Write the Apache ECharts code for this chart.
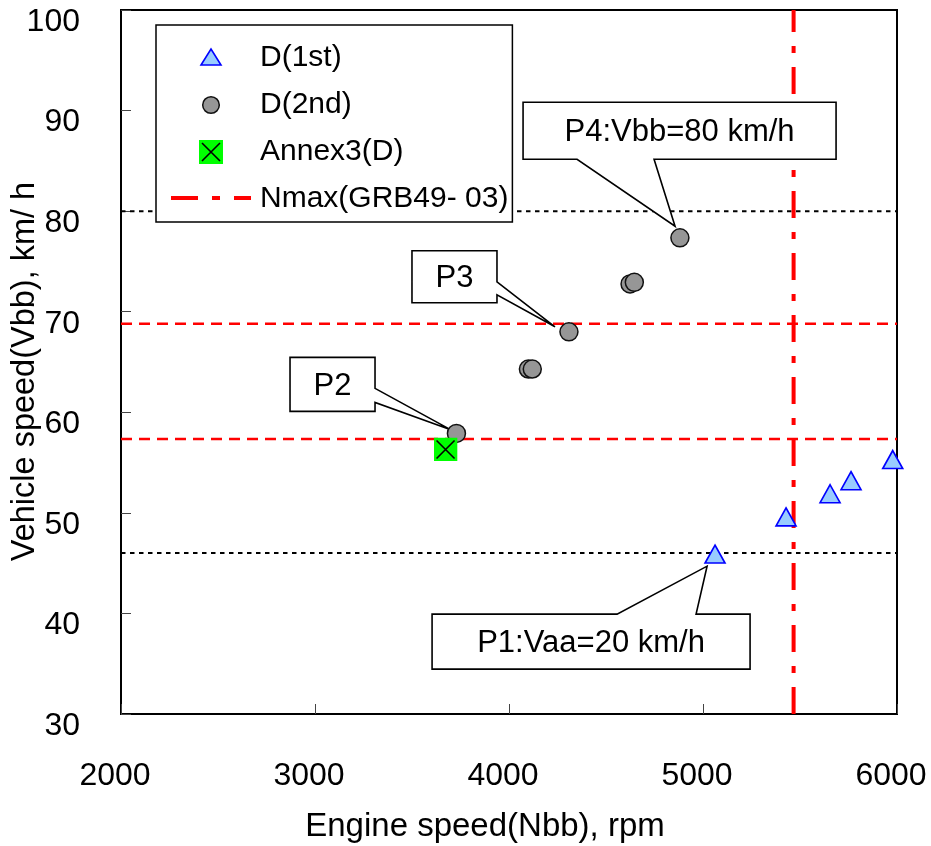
<!DOCTYPE html>
<html><head><meta charset="utf-8">
<script src="https://cdn.jsdelivr.net/npm/echarts@6/dist/echarts.min.js"></script>
<style>html,body{margin:0;padding:0;background:#fff}#c{width:931px;height:846px}</style>
</head><body><div id="c"></div>
<script>
// ---- data ----
const xMin = 2000, xMax = 6000, xStep = 1000;
const yMin = 30, yMax = 100, yStep = 10;
const d1Rpm = [5062, 5428, 5655, 5763, 5978];
const d1Kmh = [45.9, 49.6, 51.9, 53.2, 55.3];
const d2Rpm = [4881, 4624, 4646, 4309, 4100, 4120, 3729];
const d2Kmh = [77.35, 72.76, 72.92, 68.0, 64.3, 64.3, 57.9];
const annexRpm = [3673];
const annexKmh = [56.3];
const nmaxRpm = 5467;
const redLevels = [68.8, 57.35];
const dottedLevels = [80, 46];
const seriesNames = ['D(1st)', 'D(2nd)', 'Annex3(D)', 'Nmax(GRB49- 03)'];
const calloutLabels = ['P1:Vaa=20 km/h', 'P2', 'P3', 'P4:Vbb=80 km/h'];
const calloutRpm = [5021, 3696, 4237, 4856];
const calloutKmh = [44.7, 58.3, 68.5, 78.5];
// callout layout in px relative to the pointer tip
const calloutLayout = [
  {box: [-275, 48, 43, 103], side: 'top', w: [-90, -11]},
  {box: [-160, -72, -75, -18], side: 'right', w: [-41, -27]},
  {box: [-143, -76, -58, -24], side: 'right', w: [-45, -32]},
  {box: [-152, -124, 161, -67], side: 'bottom', w: [-98, -21]}
];

const FONT = '"Liberation Sans", Arial, sans-serif';
const svgUrl = s => 'image://data:image/svg+xml;charset=utf-8,' + encodeURIComponent(s);
const sqSvg = '<svg xmlns="http://www.w3.org/2000/svg" width="24" height="24" viewBox="0 0 24 24"><rect x="0" y="0" width="24" height="24" fill="#00ff00"/><path d="M3 3L21 21M21 3L3 21" stroke="#000" stroke-width="1.6" fill="none"/></svg>';
const legTri = '<svg xmlns="http://www.w3.org/2000/svg" width="80" height="24" viewBox="0 0 80 24"><polygon points="30,19 50,19 40,3" fill="#99ccff" stroke="#0000ff" stroke-width="1.6"/></svg>';
const legCir = '<svg xmlns="http://www.w3.org/2000/svg" width="80" height="24" viewBox="0 0 80 24"><circle cx="40" cy="12" r="8.3" fill="#969696" stroke="#111" stroke-width="1.5"/></svg>';
const legSq = '<svg xmlns="http://www.w3.org/2000/svg" width="80" height="24" viewBox="0 0 80 24"><rect x="28" y="0" width="24" height="24" fill="#00ff00"/><path d="M31 3L49 21M49 3L31 21" stroke="#000" stroke-width="1.6" fill="none"/></svg>';
const legLine = '<svg xmlns="http://www.w3.org/2000/svg" width="80" height="24" viewBox="0 0 80 24"><path d="M0 11H80" stroke="#ff0000" stroke-width="4" stroke-dasharray="27 14 8 14" fill="none"/></svg>';

const zip = (a, b) => a.map((v, i) => [v, b[i]]);

const series = [];
redLevels.forEach(v => series.push({
  type: 'line', data: [[xMin, v], [xMax, v]], symbol: 'none', silent: true, z: 2,
  lineStyle: {color: '#ff0000', width: 2.5, type: [11, 7]}
}));
dottedLevels.forEach(v => series.push({
  type: 'line', data: [[xMin, v], [xMax, v]], symbol: 'none', silent: true, z: 2,
  lineStyle: {color: '#000', width: 2, type: [4.5, 4.5]}
}));
series.push({
  name: seriesNames[3], type: 'line', data: [[nmaxRpm, yMin], [nmaxRpm, yMax]],
  symbol: 'none', z: 2, itemStyle: {color: '#ff0000'},
  lineStyle: {color: '#ff0000', width: 4, type: [27, 14, 7, 14]}
});
series.push({
  type: 'custom', z: 3, silent: true,
  data: zip(calloutRpm, calloutKmh),
  renderItem: function (params, api) {
    const p = api.coord([api.value(0), api.value(1)]);
    const L = calloutLayout[params.dataIndex];
    const [l, t, r, b] = L.box;
    let pts;
    if (L.side === 'top') pts = [[l, t], [L.w[0], t], [0, 0], [L.w[1], t], [r, t], [r, b], [l, b]];
    else if (L.side === 'right') pts = [[l, t], [r, t], [r, L.w[0]], [0, 0], [r, L.w[1]], [r, b], [l, b]];
    else pts = [[l, t], [r, t], [r, b], [L.w[1], b], [0, 0], [L.w[0], b], [l, b]];
    pts = pts.map(q => [p[0] + q[0], p[1] + q[1]]);
    return {
      type: 'group', children: [
        {type: 'polygon', shape: {points: pts}, style: {fill: '#fff', stroke: '#000', lineWidth: 1.6}},
        {type: 'text', style: {text: calloutLabels[params.dataIndex], x: p[0] + (l + r) / 2, y: p[1] + (t + b) / 2 + 2,
          align: 'center', verticalAlign: 'middle', fontSize: 31, fontFamily: FONT, fill: '#000'}}
      ]
    };
  }
});
series.push({
  name: seriesNames[0], type: 'scatter', z: 4, data: zip(d1Rpm, d1Kmh),
  symbol: 'triangle', symbolSize: [20, 18],
  itemStyle: {color: '#99ccff', borderColor: '#0000ff', borderWidth: 1.6, opacity: 1}
});
series.push({
  name: seriesNames[1], type: 'scatter', z: 4, data: zip(d2Rpm, d2Kmh),
  symbol: 'circle', symbolSize: 18,
  itemStyle: {color: '#969696', borderColor: '#111', borderWidth: 1.5, opacity: 1}
});
series.push({
  name: seriesNames[2], type: 'scatter', z: 5, data: zip(annexRpm, annexKmh),
  symbol: svgUrl(sqSvg), symbolSize: 24, itemStyle: {color: '#00ff00', opacity: 1}
});

const axisCommon = {
  type: 'value',
  axisLine: {show: true, lineStyle: {color: '#000', width: 2}},
  axisTick: {show: true, inside: true, length: 10, lineStyle: {color: '#444', width: 1}},
  splitLine: {show: false},
  nameLocation: 'middle',
  nameMoveOverlap: false
};

const chart = echarts.init(document.getElementById('c'), null, {renderer: 'canvas'});
chart.setOption({
  animation: false,
  backgroundColor: '#fff',
  grid: {left: 121, right: 34, top: 10, bottom: 132, containLabel: false, outerBoundsMode: 'none',
    show: true, borderColor: '#000', borderWidth: 2, backgroundColor: 'transparent'},
  xAxis: Object.assign({}, axisCommon, {
    min: xMin, max: xMax, interval: xStep,
    axisLabel: {fontSize: 32, fontFamily: FONT, color: '#000', margin: 46, padding: [0, 12, 0, 0], formatter: v => String(v)},
    name: 'Engine speed(Nbb), rpm', nameGap: 96,
    nameTextStyle: {fontSize: 33, fontFamily: FONT, color: '#000', padding: [0, 48, 0, 0]}
  }),
  yAxis: Object.assign({}, axisCommon, {
    min: yMin, max: yMax, interval: yStep,
    axisLabel: {fontSize: 32, fontFamily: FONT, color: '#000', margin: 41, lineHeight: 24, formatter: v => '\n' + v},
    name: 'Vehicle speed(Vbb), km/ h', nameGap: 79,
    nameTextStyle: {fontSize: 32.5, fontFamily: FONT, color: '#000', padding: [0, 19, 0, 0]}
  }),
  legend: {
    orient: 'vertical', left: 156, top: 25, selectedMode: false,
    backgroundColor: '#fff', borderColor: '#000', borderWidth: 1.5, borderRadius: 0,
    padding: [16, 4, 6, 15], itemGap: 13, itemWidth: 80, itemHeight: 24,
    textStyle: {fontSize: 30, fontFamily: FONT, color: '#000', lineHeight: 34, padding: [0, 0, 0, 4]},
    data: [
      {name: seriesNames[0], icon: svgUrl(legTri)},
      {name: seriesNames[1], icon: svgUrl(legCir)},
      {name: seriesNames[2], icon: svgUrl(legSq)},
      {name: seriesNames[3], icon: svgUrl(legLine)}
    ]
  },
  series: series
});
</script></body></html>
